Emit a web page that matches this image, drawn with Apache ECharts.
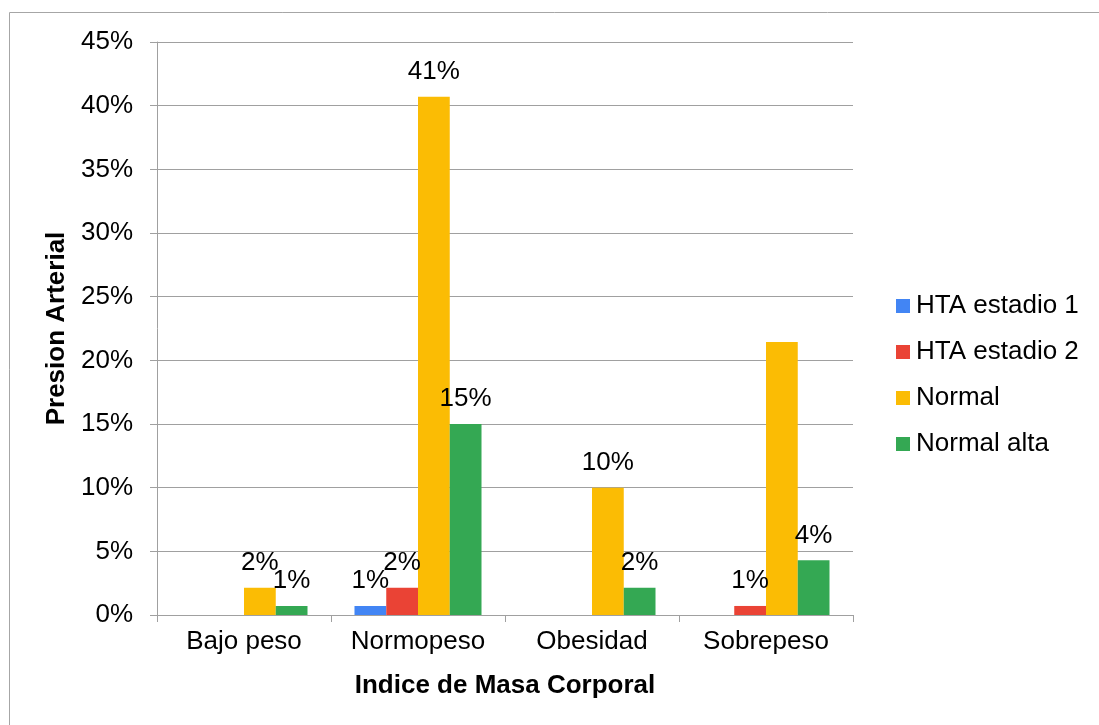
<!DOCTYPE html>
<html>
<head>
<meta charset="utf-8">
<script src="https://cdn.jsdelivr.net/npm/echarts@6/dist/echarts.min.js"></script>
<style>
  html, body { margin: 0; padding: 0; background: #fff; }
  #chart { width: 1099px; height: 725px; }
</style>
</head>
<body>
<div id="chart"></div>
<script>
// Body mass index groups and blood-pressure shares (% of total)
const categories = ['Bajo peso', 'Normopeso', 'Obesidad', 'Sobrepeso'];
const seriesNames = ['HTA estadio 1', 'HTA estadio 2', 'Normal', 'Normal alta'];
const htaEstadio1 = [0, 0.71, 0, 0];
const htaEstadio2 = [0, 2.14, 0, 0.71];
const normal = [2.14, 40.71, 10.0, 21.43];
const normalAlta = [0.71, 15.0, 2.14, 4.29];
const yTicks = { min: 0, max: 45, interval: 5 };
// The Sobrepeso / Normal bar carries no value label
const unlabeled = { Normal: [3] };

const colors = ['#4285F4', '#EA4335', '#FBBC04', '#34A853'];
const FONT = '"Liberation Sans", Arial, sans-serif';
const GRAY = '#a0a0a0';

const chart = echarts.init(document.getElementById('chart'), null, { renderer: 'canvas' });

function barSeries(name, data, color) {
  const skip = unlabeled[name] || [];
  return {
    name: name,
    type: 'bar',
    data: data,
    barGap: '0%',
    barCategoryGap: '27%',
    itemStyle: { color: color },
    label: {
      show: true,
      position: 'top',
      distance: 12,
      color: '#000',
      fontSize: 26,
      fontFamily: FONT,
      formatter: p => (p.value > 0 && skip.indexOf(p.dataIndex) < 0 ? Math.round(p.value) + '%' : '')
    }
  };
}

chart.setOption({
  animation: false,
  backgroundColor: '#fff',
  textStyle: { fontFamily: FONT },
  color: colors,
  graphic: [{
    type: 'rect',
    shape: { x: 9.5, y: 12.5, width: 1200, height: 1000 },
    style: { fill: 'none', stroke: '#a6a6a6', lineWidth: 1 },
    silent: true
  }],
  grid: { left: 157, right: 246, top: 42, bottom: 110 },
  legend: {
    orient: 'vertical',
    left: 896,
    top: 293,
    padding: 0,
    itemWidth: 14,
    itemHeight: 14,
    itemGap: 20,
    icon: 'rect',
    textStyle: { fontSize: 26, color: '#000', fontFamily: FONT, padding: [0, 0, 0, 1] },
    data: seriesNames
  },
  xAxis: {
    type: 'category',
    data: categories,
    name: 'Indice de Masa Corporal',
    nameLocation: 'middle',
    nameGap: 58,
    nameTextStyle: { fontSize: 26, fontWeight: 'bold', color: '#000', fontFamily: FONT },
    axisLine: { lineStyle: { color: GRAY, width: 1 } },
    axisTick: { show: true, length: 7, lineStyle: { color: GRAY } },
    axisLabel: { interval: 0, fontSize: 26, color: '#000', margin: 14, fontFamily: FONT }
  },
  yAxis: {
    type: 'value',
    min: yTicks.min,
    max: yTicks.max,
    interval: yTicks.interval,
    name: 'Presion Arterial',
    nameLocation: 'middle',
    nameRotate: 90,
    nameGap: 83,
    nameTextStyle: { fontSize: 26, fontWeight: 'bold', color: '#000', fontFamily: FONT },
    axisLine: { show: true, lineStyle: { color: GRAY, width: 1 } },
    axisTick: { show: true, length: 7, lineStyle: { color: GRAY } },
    axisLabel: { fontSize: 26, color: '#000', margin: 24, fontFamily: FONT, formatter: '{value}%' },
    splitLine: { show: true, lineStyle: { color: GRAY, width: 1 } }
  },
  series: [
    barSeries(seriesNames[0], htaEstadio1, colors[0]),
    barSeries(seriesNames[1], htaEstadio2, colors[1]),
    barSeries(seriesNames[2], normal, colors[2]),
    barSeries(seriesNames[3], normalAlta, colors[3])
  ]
});
</script>
</body>
</html>
